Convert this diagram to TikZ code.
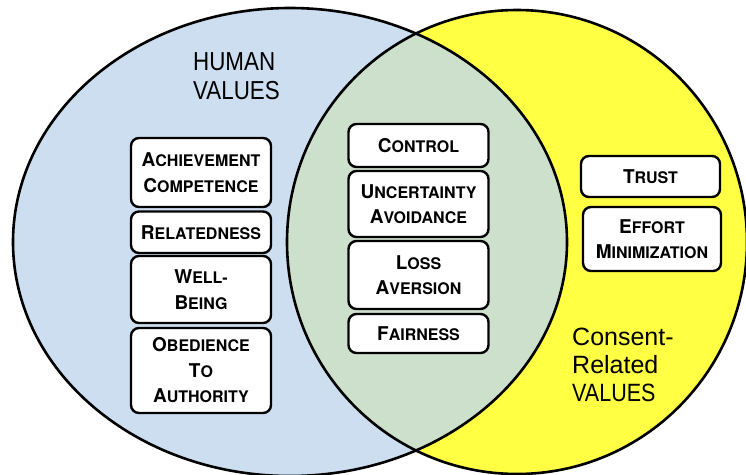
\documentclass[tikz,border=0pt]{standalone}
\usepackage{fontspec}
\usepackage{graphicx}
\setmainfont{TeX Gyre Heros}
\newfontfamily\lblfont{Liberation Sans}
\definecolor{hblue}{RGB}{204,222,240}
\definecolor{lensgreen}{RGB}{205,224,203}
\definecolor{cyel}{RGB}{255,255,68}
\newcommand\SC[2]{{\fontsize{19}{25.5}\selectfont #1}{\fontsize{16}{25.5}\selectfont #2}}
\newcommand\nar[1]{\scalebox{0.86}[1]{#1}}
\begin{document}
\begin{tikzpicture}[x=1pt,y=-1pt,
  box/.style={draw, line width=2.4pt, rounded corners=8pt, fill=white, align=center,
    font=\bfseries\fontsize{16}{25.5}\selectfont, inner sep=0pt},
  lbl/.style={font=\lblfont\fontsize{26}{29}\selectfont, align=left, inner sep=0pt},
  outline/.style={line width=2.6pt}]
\useasboundingbox (0,0) rectangle (746,474);
% ellipses
\fill[hblue] (290,242) ellipse [x radius=277pt, y radius=234pt];
\fill[cyel] (517,242) ellipse [x radius=230pt, y radius=232pt];
\begin{scope}
  \clip (290,242) ellipse [x radius=277pt, y radius=234pt];
  \fill[lensgreen] (517,242) ellipse [x radius=230pt, y radius=232pt];
\end{scope}
\draw[outline] (290,242) ellipse [x radius=277pt, y radius=234pt];
\draw[outline] (517,242) ellipse [x radius=230pt, y radius=232pt];
% labels
\node[lbl, anchor=north west] (human) at (193,52) {\nar{HUMAN}\\\nar{VALUES}};
\node[lbl, anchor=north west, font=\lblfont\fontsize{25}{28}\selectfont] (consent) at (572,328) {Consent-\\Related\\\nar{VALUES}};
% left column
\node[box, minimum width=140pt, minimum height=69pt] (ach) at (201,172.5) {\SC{A}{CHIEVEMENT}\\\SC{C}{OMPETENCE}};
\node[box, minimum width=140pt, minimum height=41.5pt] (rel) at (201,232.25) {\SC{R}{ELATEDNESS}};
\node[box, minimum width=140pt, minimum height=67pt] (well) at (201,289.5) {\SC{W}{ELL-}\\\SC{B}{EING}};
\node[box, minimum width=140pt, minimum height=85pt] (obed) at (201,370.5) {\SC{O}{BEDIENCE}\\\SC{T}{O}\\\SC{A}{UTHORITY}};
% middle column
\node[box, minimum width=140pt, minimum height=43pt] (ctrl) at (418.5,145.5) {\SC{C}{ONTROL}};
\node[box, minimum width=140pt, minimum height=66pt] (unc) at (418.5,204) {\SC{U}{NCERTAINTY}\\\SC{A}{VOIDANCE}};
\node[box, minimum width=140pt, minimum height=68pt] (loss) at (418.5,275) {\SC{L}{OSS}\\\SC{A}{VERSION}};
\node[box, minimum width=140pt, minimum height=39pt] (fair) at (418.5,333.5) {\SC{F}{AIRNESS}};
% right column
\node[box, minimum width=139pt, minimum height=41pt] (trust) at (650.5,176.5) {\SC{T}{RUST}};
\node[box, minimum width=138pt, minimum height=64pt] (effort) at (652,239) {\SC{E}{FFORT}\\\SC{M}{INIMIZATION}};
\end{tikzpicture}
\end{document}
